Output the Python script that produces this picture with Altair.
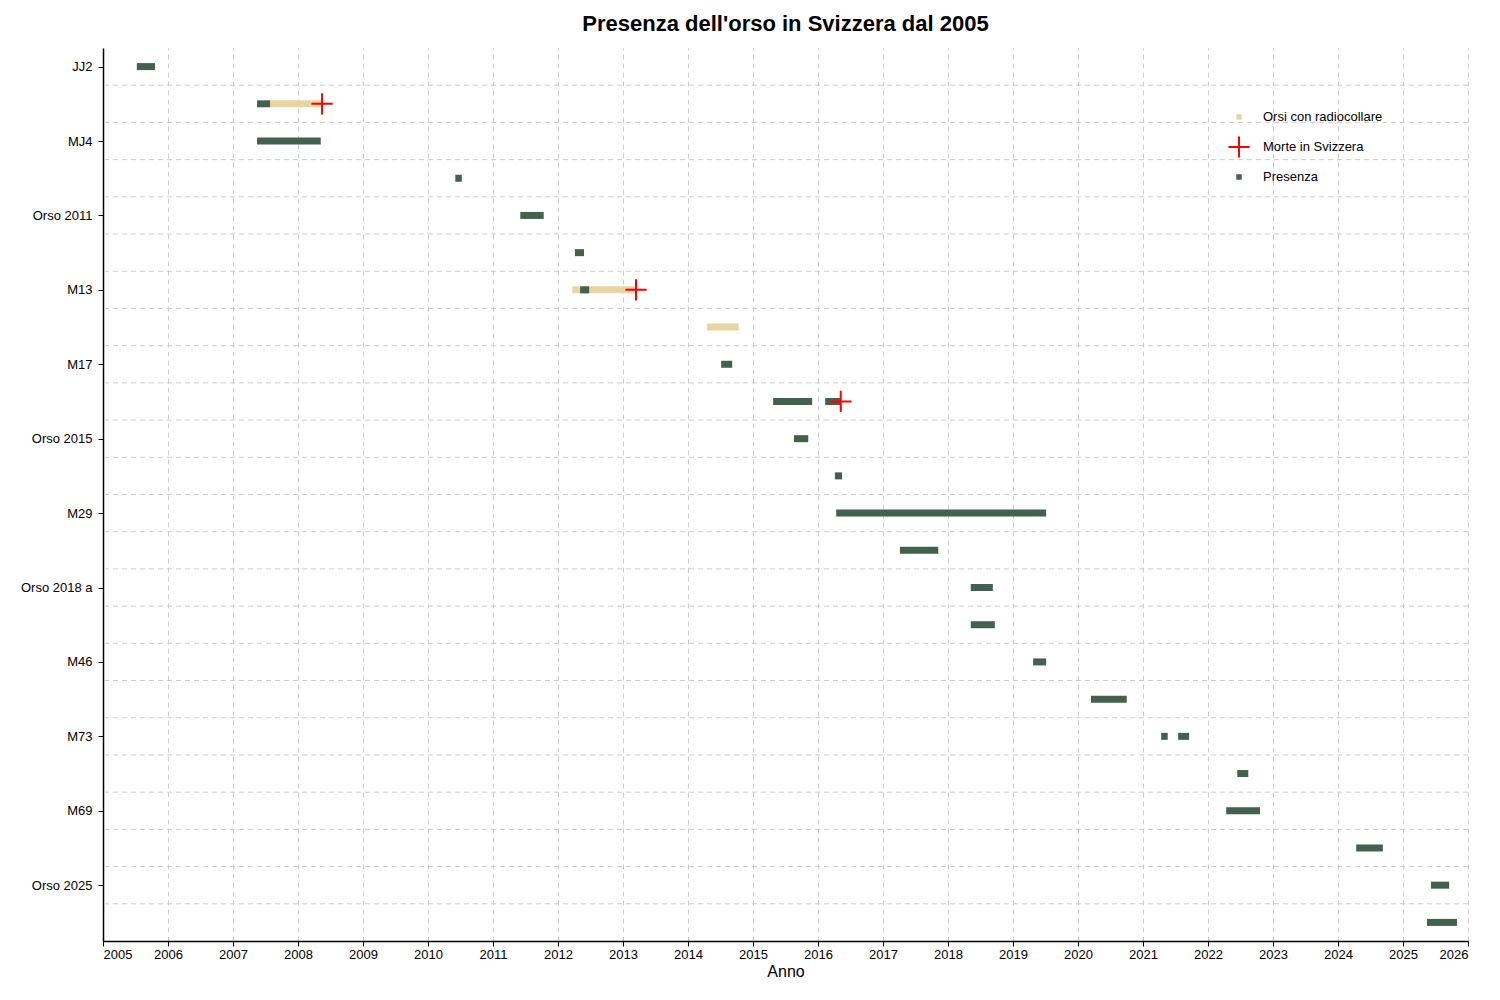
import altair as alt
import pandas as pd

names = ["JJ2", "JJ3", "MJ4", "M2", "Orso 2011", "M12", "M13", "M25", "M17", "M32",
         "Orso 2015", "Orso 2016", "M29", "Orso 2017", "Orso 2018 a", "Orso 2018 b",
         "M46", "Orso 2020", "M73", "Orso 2022", "M69", "M102", "Orso 2025", "M104"]

# presence periods (bear, start, end)
pres_bear = ["JJ2", "JJ3", "MJ4", "M2", "Orso 2011", "M12", "M13", "M17", "M32", "M32",
             "Orso 2015", "Orso 2016", "M29", "Orso 2017", "Orso 2018 a", "Orso 2018 b",
             "M46", "Orso 2020", "M73", "M73", "Orso 2022", "M69", "M102", "Orso 2025", "M104"]
pres_start = [2005.52, 2007.37, 2007.37, 2010.42, 2011.42, 2012.26, 2012.34, 2014.51, 2015.31, 2016.11,
              2015.63, 2016.26, 2016.28, 2017.26, 2018.35, 2018.35,
              2019.31, 2020.20, 2021.28, 2021.54, 2022.45, 2022.28, 2024.28, 2025.43, 2025.37]
pres_end = [2005.80, 2007.57, 2008.35, 2010.52, 2011.78, 2012.40, 2012.48, 2014.68, 2015.91, 2016.34,
            2015.85, 2016.37, 2019.51, 2017.85, 2018.69, 2018.72,
            2019.51, 2020.75, 2021.38, 2021.71, 2022.62, 2022.80, 2024.69, 2025.71, 2025.83]

# radio-collar periods
col_bear = ["JJ3", "M13", "M25"]
col_start = [2007.57, 2012.22, 2014.29]
col_end = [2008.37, 2013.20, 2014.78]

# deaths in Switzerland
death_bear = ["JJ3", "M13", "M32"]
death_date = [2008.37, 2013.20, 2016.35]

legend_labels = ["Orsi con radiocollare", "Morte in Svizzera", "Presenza"]

idx = {n: i for i, n in enumerate(names)}
pres = pd.DataFrame({"bear": pres_bear, "start": pres_start, "end": pres_end})
pres["i"] = pres["bear"].map(idx)
col = pd.DataFrame({"bear": col_bear, "start": col_start, "end": col_end})
col["i"] = col["bear"].map(idx)
death = pd.DataFrame({"bear": death_bear, "date": death_date})
death["i"] = death["bear"].map(idx)
grid = pd.DataFrame({"g": [i + 0.5 for i in range(len(names) - 1)]})

GREEN = "#43614f"
SAND = "#e8d6a0"
CROSS = "M-1,0H1M0,-1V1"
FONT = "Liberation Sans"

label_expr = "[" + ",".join(f"'{n}'" for n in names) + "][datum.value]"
xs = alt.Scale(domain=[2005, 2026], nice=False, zero=False)
ys = alt.Scale(domain=[-0.5, len(names) - 0.5], reverse=True, nice=False, zero=False)

x_axis = alt.Axis(title="Anno", values=list(range(2005, 2027)), format="d", grid=True,
                  gridDash=[5, 4], gridColor="#cccccc", domainColor="black", tickColor="black",
                  labelColor="black", titleColor="black", titleFontSize=16, titleFontWeight="normal",
                  labelFontSize=13, titlePadding=2)
y_axis = alt.Axis(title=None, values=list(range(len(names))), labelExpr=label_expr, grid=False,
                  domainColor="black", tickColor="black", labelColor="black", labelFontSize=13,
                  labelPadding=6)

gridl = alt.Chart(grid).mark_rule(color="#cccccc", strokeDash=[5, 4]).encode(
    y=alt.Y("g:Q", scale=ys, axis=y_axis))

collar = alt.Chart(col).mark_rule(color=SAND, strokeWidth=7).encode(
    x=alt.X("start:Q", scale=xs, axis=x_axis), x2="end:Q", y=alt.Y("i:Q", scale=ys))

presence = alt.Chart(pres).mark_rule(color=GREEN, strokeWidth=7).encode(
    x=alt.X("start:Q", scale=xs), x2="end:Q", y=alt.Y("i:Q", scale=ys))

deaths = alt.Chart(death).mark_point(shape=CROSS, size=450, color="red", strokeWidth=2,
                                     filled=False, opacity=1).encode(
    x=alt.X("date:Q", scale=xs), y=alt.Y("i:Q", scale=ys))

# manual legend
leg = pd.DataFrame({"lab": legend_labels})
leg_sq1 = alt.Chart(leg.iloc[[0]]).mark_square(size=30, color=SAND, opacity=1).encode(
    x=alt.value(1136), y=alt.value(69))
leg_cr = alt.Chart(leg.iloc[[1]]).mark_point(shape=CROSS, size=450, color="red", strokeWidth=2,
                                             filled=False, opacity=1).encode(
    x=alt.value(1136), y=alt.value(99))
leg_sq2 = alt.Chart(leg.iloc[[2]]).mark_square(size=30, color=GREEN, opacity=1).encode(
    x=alt.value(1136), y=alt.value(129))
leg_texts = [
    alt.Chart(leg.iloc[[k]]).mark_text(align="left", baseline="middle", fontSize=13,
                                      color="black", font=FONT).encode(
        x=alt.value(1160), y=alt.value(69 + 30 * k), text="lab:N")
    for k in range(3)
]

chart = alt.layer(gridl, collar, presence, deaths, leg_sq1, leg_cr, leg_sq2, *leg_texts).properties(
    width=1365, height=893,
    padding={"left": 12, "top": 5, "right": 5, "bottom": 5},
    title=alt.TitleParams("Presenza dell'orso in Svizzera dal 2005", fontSize=22, fontWeight="bold",
                          font=FONT, color="black", offset=12)
).configure_view(strokeWidth=0).configure_axis(
    labelFont=FONT, titleFont=FONT, domainWidth=1.5
)

chart.save("out.html", embed_options={"renderer": "svg", "actions": False})
